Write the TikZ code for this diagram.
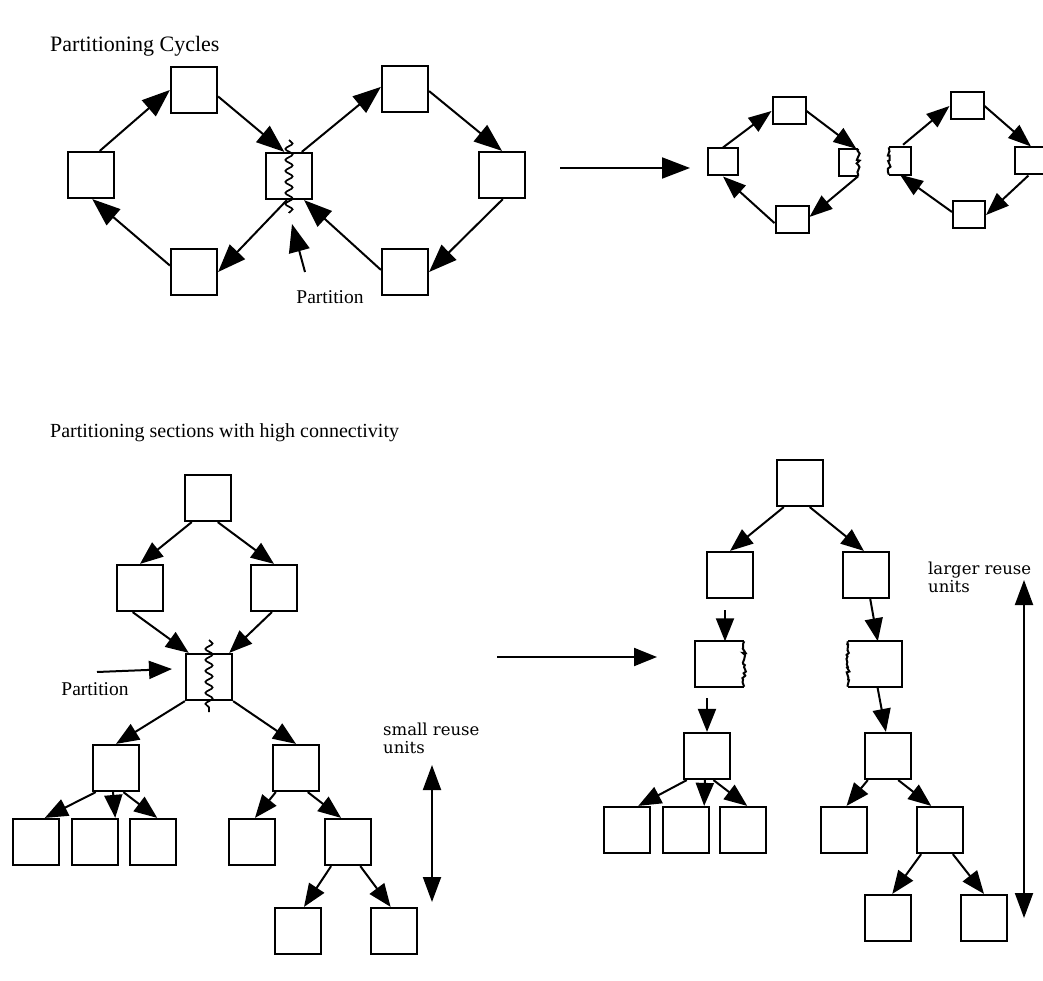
\documentclass[tikz,border=0pt]{standalone}
\usepackage{fontspec}
\setmainfont{Liberation Serif}
\newfontfamily\notefont{DejaVu Serif}
\usetikzlibrary{arrows.meta,decorations.pathmorphing,calc}

\tikzset{
  box/.style={draw, line width=2.2pt, minimum width=46pt, minimum height=46pt, inner sep=0pt},
  sbox/.style={draw, line width=2pt, minimum width=32pt, minimum height=27pt, inner sep=0pt},
  cutbox/.style={minimum width=#1, minimum height=27pt, inner sep=0pt},
  tcutbox/.style={minimum width=#1, minimum height=45pt, inner sep=0pt},
  edge/.style={line width=2.1pt},
  ragged/.style={line width=2pt, decorate, decoration={random steps, segment length=2.5pt, amplitude=1.8pt}},
  squiggle/.style={line width=1.7pt, decorate, decoration={snake, amplitude=3.6pt, segment length=11pt}},
  arr/.style={line width=2pt, -{Triangle[length=28pt,width=21pt]}},
  sarr/.style={line width=2pt, -{Triangle[length=23pt,width=17pt]}},
  tarr/.style={line width=2pt, -{Triangle[length=23pt,width=18pt]}},
  darr/.style={line width=2pt, {Triangle[length=25pt,width=18pt]}-{Triangle[length=25pt,width=18pt]}},
  title/.style={anchor=base west, inner sep=0pt},
  lab/.style={inner sep=0pt, font=\fontsize{19.5}{23}\selectfont},
  note/.style={anchor=base west, inner sep=0pt, align=left, font=\notefont\fontsize{16.5}{17.5}\selectfont},
}

\begin{document}
\begin{tikzpicture}[x=1pt,y=-1pt]
\useasboundingbox (0,0) rectangle (1043,981);
\fill[white] (0,0) rectangle (1043,981);

% ---------- Partitioning cycles ----------
\node[title, font=\fontsize{22}{26}\selectfont] (t1) at (50,52) {Partitioning Cycles};

\node[box] (A) at (91,175) {};
\node[box] (B) at (194,90) {};
\node[box] (C) at (289,176) {};
\node[box] (D) at (194,272) {};
\node[box] (E) at (405,89) {};
\node[box] (F) at (502,175) {};
\node[box] (G) at (405,272) {};
\draw[squiggle] (289,140) -- (289,213);

\draw[arr] (A.70) -- (B.west);
\draw[arr] (B.-15) -- (C.101);
\draw[arr] (C.-95) -- (D.east);
\draw[arr] (D.165) -- (A.-87);
\draw[arr] (C.62) -- (E.175);
\draw[arr] (E.-5) -- (F.north);
\draw[arr] (F.-88) -- (G.east);
\draw[arr] (G.175) -- (C.-58);

\node[lab] (plab1) at (330,297) {Partition};
\coordinate (pa1) at (305,272);
\coordinate (pb1) at (292,224);
\draw[arr] (pa1) -- (pb1);

% transformation arrow
\coordinate (m1) at (560,168);
\coordinate (m2) at (690,168);
\draw[arr] (m1) -- (m2);

% the two separated cycles
\node[sbox, minimum width=30pt] (L1) at (723,162) {};
\node[sbox, minimum width=33pt] (T1) at (789,111) {};
\node[sbox, minimum width=33pt] (B1) at (792,220) {};
\node[cutbox=19pt] (R1) at (848.5,162.5) {};
\draw[edge] (R1.north east) -- (R1.north west) -- (R1.south west) -- (R1.south east);
\draw[ragged] (R1.north east) -- (R1.south east);

\node[cutbox=22pt] (L2) at (900,161) {};
\draw[edge] (L2.north west) -- (L2.north east) -- (L2.south east) -- (L2.south west);
\draw[ragged] (L2.north west) -- (L2.south west);
\node[sbox, minimum width=33pt] (T2) at (967,106) {};
\node[sbox, minimum width=33pt] (R2) at (1031,161) {};
\node[sbox, minimum width=32pt] (B2) at (969,215) {};

\draw[sarr] (L1.north) -- (T1.west);
\draw[sarr] (T1.east) -- (R1.60);
\draw[sarr] (R1.south east) -- (B1.10);
\draw[sarr] (B1.190) -- (L1.south);
\draw[sarr, shorten <=4pt] (L2.north) -- (T2.west);
\draw[sarr] (T2.east) -- (R2.north);
\draw[sarr] (R2.-100) -- (B2.east);
\draw[sarr] (B2.170) -- (L2.south);

% ---------- Partitioning sections with high connectivity ----------
\node[title, font=\fontsize{20}{24}\selectfont] (t2) at (50,437) {Partitioning sections with high connectivity};

% left tree
\node[box] (r)   at (208,498) {};
\node[box] (l2a) at (140,588) {};
\node[box] (l2b) at (274,588) {};
\node[box] (p)   at (209,677) {};
\node[box] (l4a) at (116,768) {};
\node[box] (l4b) at (296,768) {};
\node[box] (l5a) at (36,842) {};
\node[box] (l5b) at (95,842) {};
\node[box] (l5c) at (153,842) {};
\node[box] (l5d) at (252,842) {};
\node[box] (l5e) at (348,842) {};
\node[box] (l6a) at (298,931) {};
\node[box] (l6b) at (394,931) {};
\draw[squiggle] (209,640) -- (209,712);

\draw[tarr] (r.236) -- (l2a.north);
\draw[tarr] (r.-68) -- (l2b.north);
\draw[tarr] (l2a.-107) -- (p.130);
\draw[tarr] (l2b.-95) -- (p.50);
\draw[tarr] (p.south west) -- (l4a.north);
\draw[tarr] (p.south east) -- (l4b.north);
\draw[tarr] (l4a.-130) -- (l5a.70);
\draw[tarr] (l4a.-97) -- (l5b.50);
\draw[tarr] (l4a.-73) -- (l5c.80);
\draw[tarr] (l4b.-130) -- (l5d.83);
\draw[tarr] (l4b.-64) -- (l5e.106);
\draw[tarr] (l5e.-125) -- (l6a.76);
\draw[tarr] (l5e.-63) -- (l6b.98);

\node[lab] (plab2) at (95,689) {Partition};
\coordinate (pa2) at (97,672);
\coordinate (pb2) at (172,669);
\draw[tarr] (pa2) -- (pb2);

\node[note] (small) at (383,753) {small reuse\\units};
\coordinate (s1) at (432,765);
\coordinate (s2) at (432,902);
\draw[darr] (s1) -- (s2);

% transformation arrow
\coordinate (n1) at (497,657);
\coordinate (n2) at (657,657);
\draw[tarr] (n1) -- (n2);

% right tree
\node[box] (R)   at (800,483) {};
\node[box] (q2a) at (730,575) {};
\node[box] (q2b) at (866,575) {};
\node[tcutbox=49pt] (q3a) at (719.5,664) {};
\draw[edge] (q3a.north east) -- (q3a.north west) -- (q3a.south west) -- (q3a.south east);
\draw[ragged] (q3a.north east) -- (q3a.south east);
\node[tcutbox=54pt] (q3b) at (875,664) {};
\draw[edge] (q3b.north west) -- (q3b.north east) -- (q3b.south east) -- (q3b.south west);
\draw[ragged] (q3b.north west) -- (q3b.south west);
\node[box] (q4a) at (707,756) {};
\node[box] (q4b) at (888,756) {};
\node[box] (q5a) at (627,830) {};
\node[box] (q5b) at (686,830) {};
\node[box] (q5c) at (743,830) {};
\node[box] (q5d) at (844,830) {};
\node[box] (q5e) at (940,830) {};
\node[box] (q6a) at (888,918) {};
\node[box] (q6b) at (984,918) {};

\draw[tarr] (R.236) -- (q2a.north);
\draw[tarr] (R.-68) -- (q2b.95);
\coordinate (u1) at (725,610);
\draw[tarr] (u1) -- (u1 |- q3a.north);
\draw[tarr] (q2b.-80) -- (q3b.83);
\coordinate (u2) at (707,698);
\draw[tarr] (u2) -- (u2 |- q4a.north);
\draw[tarr] (q3b.-84) -- (q4b.95);
\draw[tarr] (q4a.-130) -- (q5a.65);
\draw[tarr] (q4a.-95) -- (q5b.53);
\draw[tarr] (q4a.-75) -- (q5c.80);
\draw[tarr] (q4b.-130) -- (q5d.84);
\draw[tarr] (q4b.-67) -- (q5e.110);
\draw[tarr] (q5e.-128) -- (q6a.80);
\draw[tarr] (q5e.-62) -- (q6b.north);

\node[note] (large) at (928,592) {larger reuse\\units};
\coordinate (v1) at (1024,580);
\coordinate (v2) at (1024,918);
\draw[darr] (v1) -- (v2);
\end{tikzpicture}
\end{document}
